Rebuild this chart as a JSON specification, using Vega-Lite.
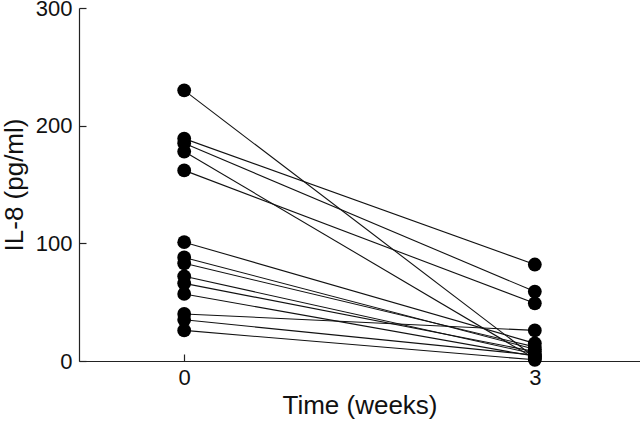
{
  "$schema": "https://vega.github.io/schema/vega-lite/v6.json",
  "width": 561,
  "height": 353,
  "autosize": "none",
  "padding": {"left": 79, "top": 8, "right": 0, "bottom": 62},
  "background": "white",
  "config": {
    "view": {"stroke": null},
    "font": "Liberation Sans",
    "axis": {"grid": false, "domainColor": "#222", "tickColor": "#222", "labelColor": "#111", "titleColor": "#111", "labelFont": "Liberation Sans", "titleFont": "Liberation Sans", "labelFontSize": 22, "titleFontSize": 26, "titleFontWeight": "normal", "domainWidth": 1.2, "tickWidth": 1.2}
  },
  "data": {
    "values": [
      {"id": 1, "week": 0, "value": 230}, {"id": 1, "week": 3, "value": 3},
      {"id": 2, "week": 0, "value": 189}, {"id": 2, "week": 3, "value": 82},
      {"id": 3, "week": 0, "value": 185}, {"id": 3, "week": 3, "value": 59},
      {"id": 4, "week": 0, "value": 178}, {"id": 4, "week": 3, "value": 2},
      {"id": 5, "week": 0, "value": 162}, {"id": 5, "week": 3, "value": 49},
      {"id": 6, "week": 0, "value": 101}, {"id": 6, "week": 3, "value": 15},
      {"id": 7, "week": 0, "value": 88}, {"id": 7, "week": 3, "value": 10},
      {"id": 8, "week": 0, "value": 83}, {"id": 8, "week": 3, "value": 12},
      {"id": 9, "week": 0, "value": 72}, {"id": 9, "week": 3, "value": 6},
      {"id": 10, "week": 0, "value": 66}, {"id": 10, "week": 3, "value": 8},
      {"id": 11, "week": 0, "value": 57}, {"id": 11, "week": 3, "value": 4},
      {"id": 12, "week": 0, "value": 40}, {"id": 12, "week": 3, "value": 26},
      {"id": 13, "week": 0, "value": 35}, {"id": 13, "week": 3, "value": 5},
      {"id": 14, "week": 0, "value": 26}, {"id": 14, "week": 3, "value": 1}
    ]
  },
  "encoding": {
    "x": {"field": "week", "type": "quantitative", "scale": {"domain": [-0.9, 3.9], "nice": false, "zero": false},
      "axis": {"values": [0, 3], "title": "Time (weeks)", "tickSize": -7, "labelPadding": 13, "titlePadding": 4, "labelFlush": false}},
    "y": {"field": "value", "type": "quantitative", "scale": {"domain": [0, 300], "nice": false},
      "axis": {"values": [0, 100, 200, 300], "title": "IL-8 (pg/ml)", "tickSize": -7, "labelPadding": 14, "titlePadding": 8, "labelFlush": false}}
  },
  "layer": [
    {"mark": {"type": "line", "color": "#111", "strokeWidth": 1.1}, "encoding": {"detail": {"field": "id"}}},
    {"mark": {"type": "circle", "color": "#000", "opacity": 1, "size": 190}}
  ]
}
